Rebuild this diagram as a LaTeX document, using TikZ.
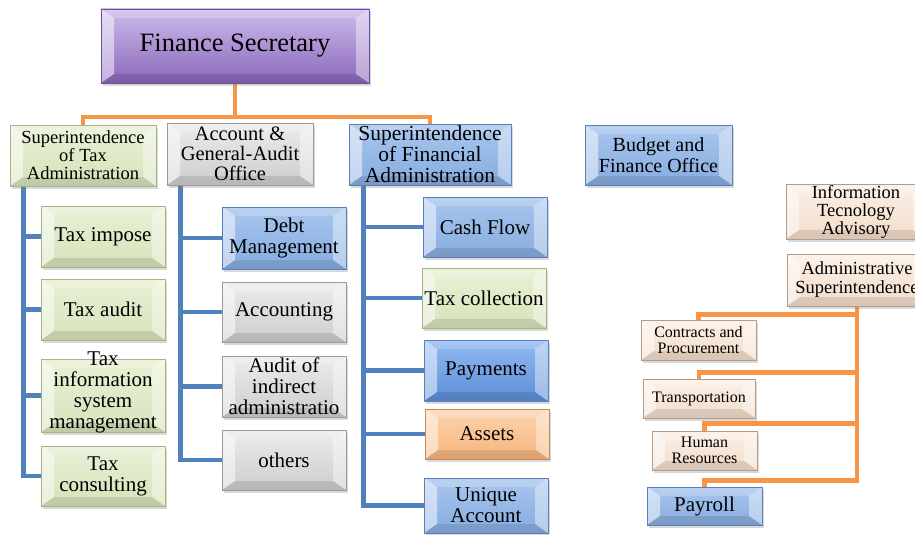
\documentclass[tikz,border=0pt]{standalone}
\usepackage{fontspec}
\setmainfont{Liberation Serif}
\usepackage{tikz}
\usetikzlibrary{shadows,backgrounds}

\definecolor{purpA}{HTML}{CDBCEB}
\definecolor{purpB}{HTML}{8A66BA}
\definecolor{purpD}{HTML}{6E4E9A}
\definecolor{greenA}{HTML}{E9F0D6}
\definecolor{greenB}{HTML}{D6E3BA}
\definecolor{greenD}{HTML}{A3B585}
\definecolor{greyA}{HTML}{ECECEC}
\definecolor{greyB}{HTML}{CDCDCD}
\definecolor{greyD}{HTML}{9A9A9A}
\definecolor{blueA}{HTML}{A9C6EE}
\definecolor{blueB}{HTML}{86ACDF}
\definecolor{blueD}{HTML}{5A80B8}
\definecolor{dblueA}{HTML}{92BAF2}
\definecolor{dblueB}{HTML}{5B8ED6}
\definecolor{orngA}{HTML}{FCD4AE}
\definecolor{orngB}{HTML}{F7B47C}
\definecolor{orngD}{HTML}{C38A5A}
\definecolor{peachA}{HTML}{FCF0E6}
\definecolor{peachB}{HTML}{F2DCCA}
\definecolor{peachD}{HTML}{B49C88}
\definecolor{lineblue}{HTML}{4F81BD}
\definecolor{lineorange}{HTML}{F79646}

\tikzstyle{bevel} = [rectangle, inner sep=0pt, align=center, line width=0.6pt,
  drop shadow={opacity=0.3,shadow xshift=2pt,shadow yshift=-2.5pt},
  path picture={
    \fill[white,opacity=0.5] (path picture bounding box.north west) -- (path picture bounding box.south west)
      -- ([xshift=13pt,yshift=9pt]path picture bounding box.south west) -- ([xshift=13pt,yshift=-9pt]path picture bounding box.north west) -- cycle;
    \fill[white,opacity=0.4] (path picture bounding box.north east) -- (path picture bounding box.south east)
      -- ([xshift=-13pt,yshift=9pt]path picture bounding box.south east) -- ([xshift=-13pt,yshift=-9pt]path picture bounding box.north east) -- cycle;
    \fill[white,opacity=0.2] (path picture bounding box.north west) -- (path picture bounding box.north east)
      -- ([xshift=-13pt,yshift=-9pt]path picture bounding box.north east) -- ([xshift=13pt,yshift=-9pt]path picture bounding box.north west) -- cycle;
    \fill[black,opacity=0.1] (path picture bounding box.south west) -- (path picture bounding box.south east)
      -- ([xshift=-13pt,yshift=9pt]path picture bounding box.south east) -- ([xshift=13pt,yshift=9pt]path picture bounding box.south west) -- cycle;
  }]
\tikzstyle{purplebox} = [bevel, draw=purpD, top color=purpA, bottom color=purpB]
\tikzstyle{greenbox} = [bevel, draw=greenD, top color=greenA, bottom color=greenB]
\tikzstyle{greybox} = [bevel, draw=greyD, top color=greyA, bottom color=greyB]
\tikzstyle{bluebox} = [bevel, draw=blueD, top color=blueA, bottom color=blueB]
\tikzstyle{dbluebox} = [bevel, draw=blueD, top color=dblueA, bottom color=dblueB]
\tikzstyle{orangebox} = [bevel, draw=orngD, top color=orngA, bottom color=orngB]
\tikzstyle{peachbox} = [bevel, draw=peachD, top color=peachA, bottom color=peachB]
\tikzstyle{bline} = [line width=4.5pt, lineblue]
\tikzstyle{oline} = [line width=4.5pt, lineorange]
\tikzstyle{big} = [font=\fontsize{21}{21}\selectfont]
\tikzstyle{small} = [font=\fontsize{16}{16}\selectfont]
\tikzset{dims/.style 2 args={minimum width=#1pt, minimum height=#2pt}}

\begin{document}
\begin{tikzpicture}[x=1pt,y=-1pt]
\useasboundingbox (0,0) rectangle (915,535);
% top
\node[purplebox, dims={268}{74}, font=\fontsize{26.5}{28}\selectfont] (fs) at (235,46) {Finance Secretary};
\node[greenbox, dims={146}{61}, font=\fontsize{18.5}{18}\selectfont] (sta) at (83,155.5) {Superintendence\\of Tax\\Administration};
\node[greybox, dims={146}{62}, font=\fontsize{20.5}{20}\selectfont] (agao) at (240,154) {Account \&\\General-Audit\\Office};
\node[bluebox, dims={162}{61}, font=\fontsize{21.5}{21}\selectfont] (sfa) at (430,154.5) {Superintendence\\of Financial\\Administration};
\node[bluebox, dims={147}{60}, font=\fontsize{20}{21}\selectfont] (bfo) at (658.5,155) {Budget and\\Finance Office};
\node[peachbox, dims={140}{55}, font=\fontsize{18.5}{18}\selectfont] (ita) at (856,211.5) {Information\\Tecnology\\Advisory};
\node[peachbox, dims={140}{52}, font=\fontsize{18.5}{19}\selectfont] (as) at (857,280) {Administrative\\Superintendence};
% tax column
\node[greenbox, big, dims={124}{61}] (ti) at (103,236.5) {Tax impose};
\node[greenbox, big, dims={124}{61}] (ta) at (103,309.5) {Tax audit};
\node[greenbox, big, dims={124}{73}] (tis) at (103,395.5) {\raisebox{-5pt}{\smash{\begin{tabular}{@{}c@{}}Tax\\information\\system\\management\end{tabular}}}};
\node[greenbox, big, dims={124}{60}] (tc) at (103,476) {Tax\\consulting};
% audit column
\node[bluebox, big, dims={124}{62}] (dm) at (284,238) {Debt\\Management};
\node[greybox, big, dims={124}{60}] (acc) at (284,312) {Accounting};
\node[greybox, big, dims={124}{61}] (aia) at (284,386.5) {Audit of\\indirect\\administratio};
\node[greybox, big, dims={124}{60}] (oth) at (284,460) {others};
% financial column
\node[bluebox, big, dims={124}{60}] (cf) at (485,227) {Cash Flow};
\node[greenbox, big, dims={124}{60}] (tcol) at (484,298) {Tax collection};
\node[dbluebox, big, dims={124}{61}] (pay) at (486,370.5) {Payments};
\node[orangebox, big, dims={124}{50}] (ast) at (487,434) {Assets};
\node[bluebox, big, dims={124}{55}] (ua) at (486,505.5) {Unique\\Account};
% administrative column
\node[peachbox, small, dims={115}{40}] (cp) at (698.5,340) {Contracts and\\Procurement};
\node[peachbox, small, dims={112}{39}] (tr) at (699,398.5) {Transportation};
\node[peachbox, small, dims={105}{39}] (hr) at (704.5,450.5) {Human\\Resources};
\node[bluebox, big, dims={115}{38}] (pr) at (704.5,506) {Payroll};
% connectors
\begin{scope}[on background layer]
\coordinate (hub) at (235,117);
\draw[oline] (fs.south) -- (hub);
\draw[oline] (sta.north) |- (hub) -| (sfa.north);
\coordinate (taxbus) at ([xshift=14pt]sta.south west);
\coordinate (audbus) at ([xshift=14pt]agao.south west);
\coordinate (finbus) at ([xshift=15pt]sfa.south west);
\draw[bline] (taxbus) |- (tc.west);
\foreach \n in {ti,ta,tis} \draw[bline] (\n.west) -- (\n.west -| taxbus);
\draw[bline] (audbus) |- (oth.west);
\foreach \n in {dm,acc,aia} \draw[bline] (\n.west) -- (\n.west -| audbus);
\draw[bline] (finbus) |- (ua.west);
\foreach \n in {cf,tcol,pay,ast} \draw[bline] (\n.west) -- (\n.west -| finbus);
\draw[oline] (cp.north) -- ++(0,-5) -| (as.south);
\draw[oline] (tr.north) -- ++(0,-6) -| (as.south);
\draw[oline] (hr.north) -- ++(0,-7) -| (as.south);
\draw[oline] (pr.north) -- ++(0,-6) -| (as.south);
\end{scope}
\end{tikzpicture}
\end{document}
